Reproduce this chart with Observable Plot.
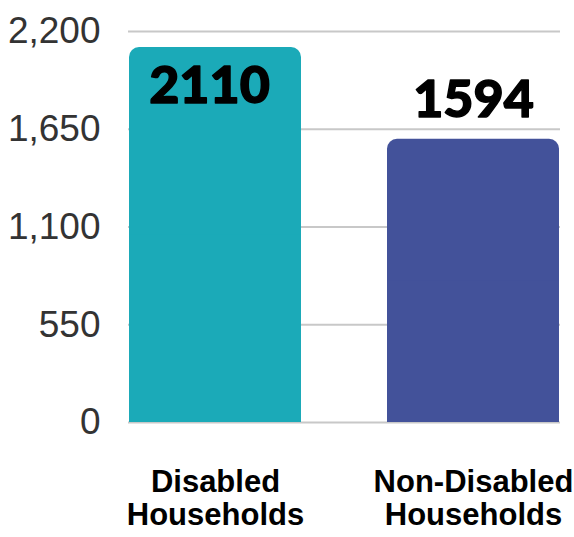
<!DOCTYPE html>
<html>
<head>
<meta charset="utf-8">
<script src="https://cdn.jsdelivr.net/npm/d3@7"></script>
<script src="https://cdn.jsdelivr.net/npm/@observablehq/plot@0.6"></script>
<style>
  html, body { margin: 0; padding: 0; background: #fff; }
  #chart { width: 574px; height: 537px; }
</style>
</head>
<body>
<div id="chart"></div>
<script>
const categories = ["Disabled Households", "Non-Disabled Households"];
const categoryLabels = ["Disabled\nHouseholds", "Non-Disabled\nHouseholds"];
const values = [2110, 1594];
const colors = ["#1BAAB8", "#43529A"];
const yTicks = [0, 550, 1100, 1650, 2200];

const data = categories.map((c, i) => ({category: c, label: categoryLabels[i], value: values[i], color: colors[i]}));
const yMax = yTicks[yTicks.length - 1];
const isInside = d => d.value / yMax > 0.9;

const valueText = {
  x: "category", y: "value", text: d => String(d.value),
  fontSize: 52, fontWeight: 900, fontFamily: "Lato, 'Open Sans', sans-serif",
  fill: "#000", stroke: "#000", strokeWidth: 1.4, lineAnchor: "middle", letterSpacing: -2.5
};

const chart = Plot.plot({
  width: 574,
  height: 537,
  marginTop: 31,
  marginBottom: 115,
  marginLeft: 128,
  marginRight: 14,
  style: {fontFamily: "'Liberation Sans', Arial, sans-serif", background: "#fff"},
  x: {domain: categories, paddingInner: 0.332, paddingOuter: 0, label: null},
  y: {domain: [0, yMax], label: null},
  marks: [
    Plot.ruleY(yTicks, {stroke: "#c8c8c8", strokeWidth: 2}),
    Plot.barY(data, {x: "category", y: "value", fill: "color", rx: 10}),
    Plot.barY(data, {x: "category", y1: 0, y2: d => d.value / 2, fill: "color"}),
    Plot.axisY({ticks: yTicks, tickSize: 0, tickPadding: 28, tickFormat: d3.format(","), fontSize: 37, fill: "#333", label: null}),
    Plot.axisX({tickSize: 0, tickPadding: 47, lineAnchor: "top", tickFormat: c => categoryLabels[categories.indexOf(c)], fontSize: 31, fontWeight: "bold", fill: "#000", lineHeight: 1.04, label: null}),
    Plot.text(data.filter(d => !isInside(d)), {...valueText, dy: -39}),
    Plot.text(data.filter(d => isInside(d)), {...valueText, dy: 39, dx: -6})
  ]
});
document.getElementById("chart").appendChild(chart);
</script>
</body>
</html>
